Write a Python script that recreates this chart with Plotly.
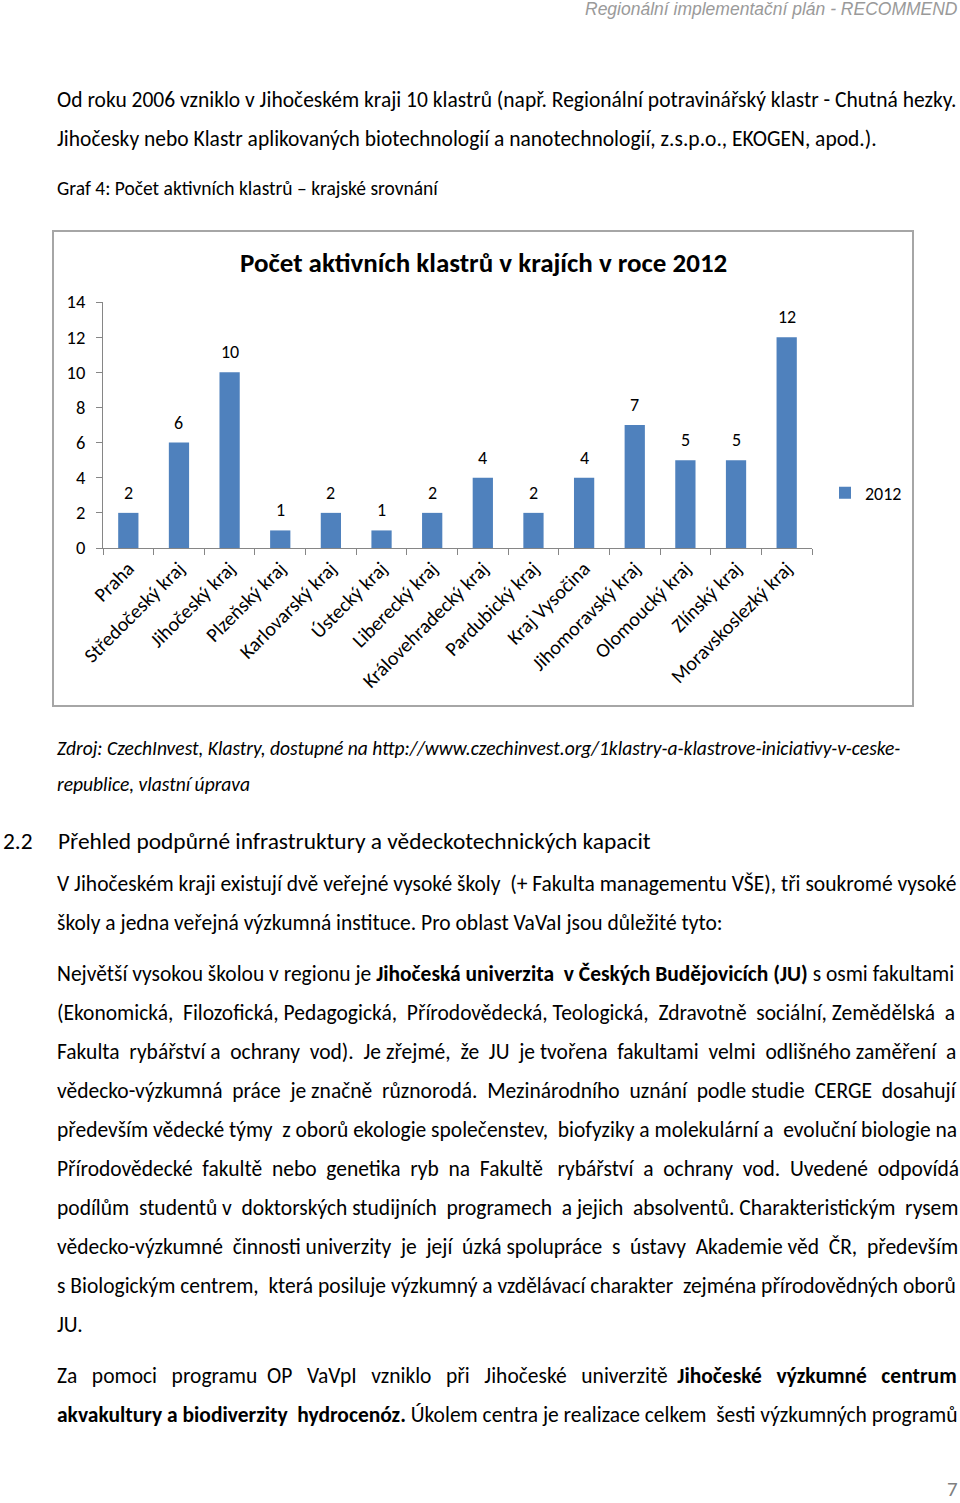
import plotly.graph_objects as go

# ---- data ----
regions = ["Praha", "Středočeský kraj", "Jihočeský kraj", "Plzeňský kraj", "Karlovarský kraj",
           "Ústecký kraj", "Liberecký kraj", "Královehradecký kraj", "Pardubický kraj",
           "Kraj Vysočina", "Jihomoravský kraj", "Olomoucký kraj", "Zlínský kraj",
           "Moravskoslezký kraj"]
clusters_2012 = [2, 6, 10, 1, 2, 1, 2, 4, 2, 4, 7, 5, 5, 12]
y_ticks = [0, 2, 4, 6, 8, 10, 12, 14]
series_name = "2012"
chart_title = "Počet aktivních klastrů v krajích v roce 2012"

W, H = 960, 1503
FONT = "Carlito, Calibri, Lato, sans-serif"
BLUE = "#4F81BD"
AX = "#868686"
NBSP = "\u00a0"


def px(x):
    return x / W


def py(y):
    return 1 - y / H


def justify(text, n_extra):
    """Spread n_extra non-breaking spaces over the word gaps (justified look)."""
    words = text.split(" ")
    gaps = len(words) - 1
    if n_extra <= 0 or gaps <= 0:
        return text
    add = [0] * gaps
    for i in range(n_extra):
        add[int((i + 0.5) * gaps / n_extra)] += 1
    out = words[0]
    for g in range(gaps):
        out += NBSP * add[g] + " " + words[g + 1]
    return out


fig = go.Figure()
fig.add_trace(go.Bar(
    x=regions, y=clusters_2012, name=series_name, marker_color=BLUE,
    marker_line_width=0, width=0.4, showlegend=True,
))

annotations = []
# data labels above bars
for r, v in zip(regions, clusters_2012):
    annotations.append(dict(x=r, y=v, xref="x", yref="y", text=str(v), showarrow=False,
                            yshift=20, font=dict(family=FONT, size=18, color="#000")))

# chart title
annotations.append(dict(x=px(483), y=py(263), xref="paper", yref="paper",
                        text="<b>" + chart_title + "</b>", showarrow=False,
                        xanchor="center", yanchor="middle",
                        font=dict(family=FONT, size=27, color="#000")))


def text_line(x, y, t, size=21.5, color="#000", anchor="left", family=FONT):
    shift = -2 if anchor == "left" else 2
    annotations.append(dict(x=px(x), y=py(y), xref="paper", yref="paper", text=t,
                            showarrow=False, xanchor=anchor, yanchor="middle", xshift=shift,
                            font=dict(family=family, size=size, color=color)))


# header
text_line(958, 9, "<i>Regionální implementační plán - RECOMMEND</i>", size=17.5,
          color="#9a9a9a", anchor="right", family="Liberation Sans, Arial, sans-serif")

text_line(57, 100, "Od roku 2006 vzniklo v Jihočeském kraji 10 klastrů (např. Regionální potravinářský klastr - Chutná hezky.")
text_line(57, 139, "Jihočesky nebo Klastr aplikovaných biotechnologií a nanotechnologií, z.s.p.o., EKOGEN, apod.).")
text_line(57, 188, "Graf 4: Počet aktivních klastrů – krajské srovnání", size=19.5)

text_line(57, 748, "<i>Zdroj: CzechInvest, Klastry, dostupné na http://www.czechinvest.org/1klastry-a-klastrove-iniciativy-v-ceske-</i>", size=19.5)
text_line(57, 784, "<i>republice, vlastní úprava</i>", size=19.5)

text_line(3, 841, "2.2", size=23.4)
text_line(58, 841, "Přehled podpůrné infrastruktury a vědeckotechnických kapacit", size=23.4)

# (y, text, extra spaces for justification)
body = [
    (884, "V Jihočeském kraji existují dvě veřejné vysoké školy (+ Fakulta managementu VŠE), tři soukromé vysoké", 1),
    (923, "školy a jedna veřejná výzkumná instituce. Pro oblast VaVaI jsou důležité tyto:", 0),
    (974, "Největší vysokou školou v regionu je <b>Jihočeská univerzita v Českých Budějovicích (JU)</b> s osmi fakultami", 1),
    (1013, "(Ekonomická, Filozofická, Pedagogická, Přírodovědecká, Teologická, Zdravotně sociální, Zemědělská a", 5),
    (1052, "Fakulta rybářství a ochrany vod). Je zřejmé, že JU je tvořena fakultami velmi odlišného zaměření a", 11),
    (1091, "vědecko-výzkumná práce je značně různorodá. Mezinárodního uznání podle studie CERGE dosahují", 8),
    (1130, "především vědecké týmy z oborů ekologie společenstev, biofyziky a molekulární a evoluční biologie na", 3),
    (1169, "Přírodovědecké fakultě nebo genetika ryb na Fakultě rybářství a ochrany vod. Uvedené odpovídá", 13),
    (1208, "podílům studentů v doktorských studijních programech a jejich absolventů. Charakteristickým rysem", 6),
    (1247, "vědecko-výzkumné činnosti univerzity je její úzká spolupráce s ústavy Akademie věd ČR, především", 9),
    (1286, "s Biologickým centrem, která posiluje výzkumný a vzdělávací charakter zejména přírodovědných oborů", 2),
    (1325, "JU.", 0),
    (1376, "Za pomoci programu OP VaVpI vzniklo při Jihočeské univerzitě <b>Jihočeské výzkumné centrum</b>", 20),
    (1415, "<b>akvakultury a biodiverzity hydrocenóz.</b> Úkolem centra je realizace celkem šesti výzkumných programů", 2),
]
for y, t, n in body:
    text_line(57, y, justify(t, n))

text_line(958, 1489, "7", size=21, color="#808080", anchor="right")

shapes = [dict(type="rect", xref="paper", yref="paper", x0=px(53), x1=px(913),
               y0=py(706), y1=py(231), line=dict(color="#a6a6a6", width=2),
               fillcolor="rgba(0,0,0,0)", layer="below")]

fig.update_layout(
    width=W, height=H, margin=dict(l=0, r=0, t=0, b=0, pad=0, autoexpand=False),
    paper_bgcolor="white", plot_bgcolor="white",
    bargap=0.6,
    annotations=annotations, shapes=shapes,
    legend=dict(x=px(825), y=py(493), xanchor="left", yanchor="middle",
                font=dict(family=FONT, size=18, color="#000"), bgcolor="rgba(0,0,0,0)",
                itemwidth=30),
    xaxis=dict(domain=[px(103), px(812)], type="category", tickson="boundaries",
               ticks="outside", ticklen=6, tickcolor=AX, showline=True, linecolor=AX,
               linewidth=1, tickangle=-45, showgrid=False, automargin=False,
               tickfont=dict(family=FONT, size=20, color="#000")),
    yaxis=dict(domain=[py(548), py(302)], range=[0, 14], tickvals=y_ticks,
               ticks="outside", ticklen=6, tickcolor=AX, showline=True, linecolor=AX,
               linewidth=1, showgrid=False, zeroline=False, automargin=False,
               ticklabelstandoff=7,
               tickfont=dict(family=FONT, size=18.5, color="#000")),
)

fig.write_html(
    "out.html",
    config={"displayModeBar": False},
    post_script="document.body.style.margin='0px';document.body.style.overflow='hidden';",
)
